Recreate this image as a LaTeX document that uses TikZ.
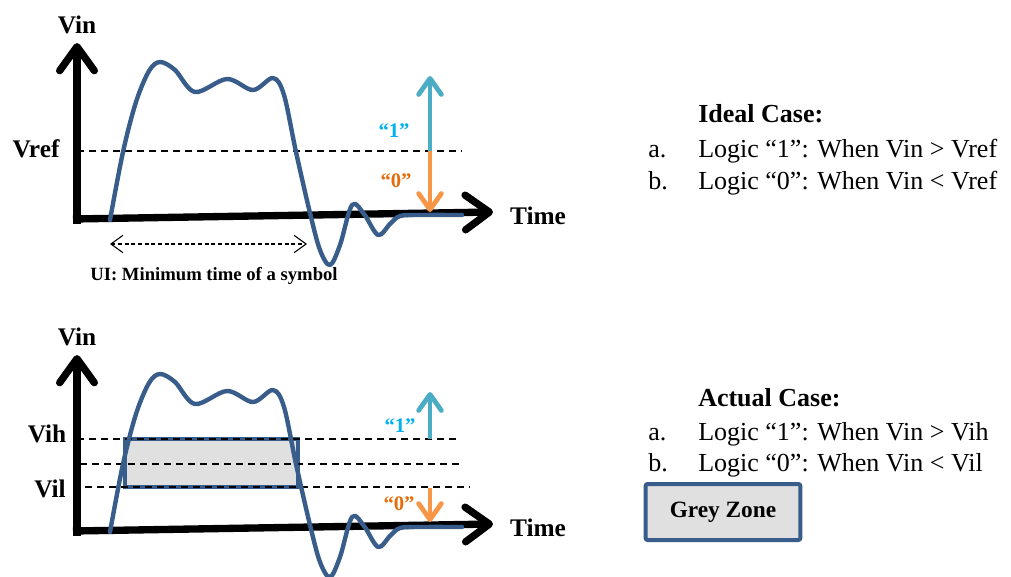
\documentclass[tikz,border=0pt]{standalone}
\usepackage{fontspec}
\setmainfont{Liberation Serif}
\usepackage{xcolor}
\usetikzlibrary{arrows.meta,calc,positioning}
\definecolor{wave}{HTML}{385D8A}
\definecolor{hiarrow}{HTML}{4BACC6}
\definecolor{loarrow}{HTML}{F79646}
\definecolor{hitext}{HTML}{00B0F0}
\definecolor{lotext}{HTML}{E46C0A}
\definecolor{zonegray}{HTML}{E0E0E0}
\tikzset{
    axisline/.style={black, line width=5.5pt, -{Straight Barb[round, length=18pt, width=26pt]}},
    signal/.style={wave, line width=3.3pt, line join=round, line cap=round},
    threshold/.style={black, line width=1.1pt, dash pattern=on 5.5pt off 3.5pt},
    logicarrow/.style={line width=3.6pt, -{Straight Barb[round, length=12pt, width=17pt]}},
    uiarrow/.style={black, line width=.8pt, dash pattern=on 3pt off 2pt,
        {Straight Barb[length=9pt, width=13pt]}-{Straight Barb[length=9pt, width=13pt]}},
    axisname/.style={font=\fontsize{19}{22}\selectfont\bfseries, inner sep=0pt, anchor=base},
    logicname/.style={font=\fontsize{15.5}{18}\selectfont\bfseries, inner sep=0pt, anchor=base},
    casetext/.style={font=\fontsize{19.5}{23}\selectfont, inner sep=0pt, anchor=base west},
}

\begin{document}
\begin{tikzpicture}[x=.75pt, y=-.75pt]
    \useasboundingbox (0,0) rectangle (1011,576);

    % Grey zone and thresholds of the lower plot.
    \draw[wave, line width=3.3pt, fill=zonegray] (125,439) rectangle (298,487);
    \foreach \y/\a/\b in {439/77/460, 464/80/461, 487/85/470}
        \draw[threshold] (\a,\y) -- (\b,\y);

    % Threshold of the upper plot.
    \draw[threshold] (77,151) -- (462,151);

    % Axes and input signal, upper and lower plot.
    \foreach \dy in {0,312} {
        \begin{scope}[shift={(0,\dy)}]
            \draw[axisline] (77,224) -- (77,43);
            \draw[axisline] (73,219) -- (493,212);
            \draw[signal] plot[smooth, tension=.55] coordinates {
                (110,220) (123,152) (136,102) (149,71) (160,62) (175,70)
                (195,92) (227,79) (253,90) (273,78) (284,95) (296,152)
                (310,213) (320,250) (330,265) (340,245) (352,205) (364,214)
                (378,235) (390,224) (400,216) (420,215) (462,215)};
            \node[axisname] (vin\dy) at (77,33) {Vin};
            \node[axisname] (time\dy) at (538,224) {Time};
        \end{scope}
    }

    % Level names.
    \node[axisname] (vref) at (36,157) {Vref};
    \node[axisname] (vih) at (47,442) {Vih};
    \node[axisname] (vil) at (50,497) {Vil};

    % Logic "1" and "0", upper plot.
    \coordinate (ref) at (430,151);
    \coordinate (hitop) at (430,76);
    \coordinate (lobot) at (430,212);
    \draw[logicarrow, hiarrow] (ref) -- (hitop);
    \draw[logicarrow, loarrow] (ref) -- (lobot);
    \node[logicname, hitext] (one) at (394,137) {“1”};
    \node[logicname, lotext] (zero) at (396,187) {“0”};

    % Logic "1" and "0", lower plot.
    \coordinate (high) at (430,439);
    \coordinate (hitop2) at (430,392);
    \coordinate (low) at (430,488);
    \coordinate (lobot2) at (430,522);
    \draw[logicarrow, hiarrow] (high) -- (hitop2);
    \draw[logicarrow, loarrow] (low) -- (lobot2);
    \node[logicname, hitext] (one2) at (400,432) {“1”};
    \node[logicname, lotext] (zero2) at (399,510) {“0”};

    % Unit interval.
    \coordinate (uileft) at (110,244);
    \coordinate (uiright) at (307,244);
    \draw[uiarrow] (uileft) -- (uiright);
    \node[font=\fontsize{14}{16}\selectfont\bfseries, inner sep=0pt, anchor=base] (ui) at (214,280)
        {UI: Minimum time of a symbol};

    % Ideal case.
    \node[casetext, font=\fontsize{19.5}{23}\selectfont\bfseries] (ideal) at (698,122) {Ideal Case:};
    \foreach \n/\y/\i/\t in {ia/157/a./{Logic “1”: When Vin > Vref},
                            ib/189/b./{Logic “0”: When Vin < Vref}} {
        \node[casetext] (\n-i) at (648,\y) {\i};
        \node[casetext] (\n) at (698,\y) {\t};
    }

    % Actual case.
    \node[casetext, font=\fontsize{19.5}{23}\selectfont\bfseries] (actual) at (698,406) {Actual Case:};
    \foreach \n/\y/\i/\t in {aa/440/a./{Logic “1”: When Vin > Vih},
                            ab/471/b./{Logic “0”: When Vin < Vil}} {
        \node[casetext] (\n-i) at (648,\y) {\i};
        \node[casetext] (\n) at (698,\y) {\t};
    }

    % Legend.
    \node[draw=wave, line width=3pt, fill=zonegray, rounded corners=1.5pt,
        minimum width=116pt, minimum height=42pt,
        font=\fontsize{17.5}{20}\selectfont\bfseries] (zone) at (723,512) {Grey Zone};
\end{tikzpicture}
\end{document}
